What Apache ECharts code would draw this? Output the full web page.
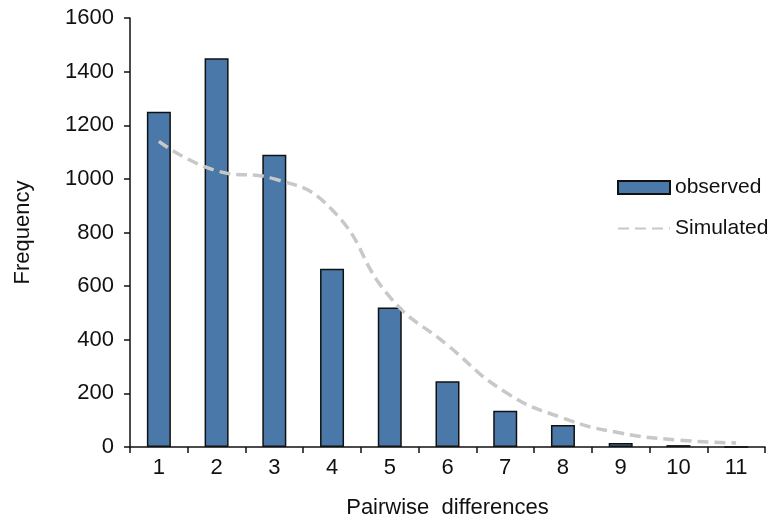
<!DOCTYPE html>
<html>
<head>
<meta charset="utf-8">
<script src="https://cdn.jsdelivr.net/npm/echarts@6/dist/echarts.min.js"></script>
<style>
  html, body { margin: 0; padding: 0; background: #fff; }
  #chart { width: 772px; height: 520px; }
</style>
</head>
<body>
<div id="chart"></div>
<script>
// 数据
const categories = ['1', '2', '3', '4', '5', '6', '7', '8', '9', '10', '11']
const observed = [1250, 1450, 1090, 665, 520, 245, 135, 82, 15, 7, 0]
const simulated = [1140, 1030, 1000, 885, 560, 380, 205, 108, 52, 26, 15]
const yTicks = [0, 200, 400, 600, 800, 1000, 1200, 1400, 1600]

const font = 'Liberation Sans, Arial, sans-serif'
const chart = echarts.init(document.getElementById('chart'))

const option = {
  animation: false,
  textStyle: { fontFamily: font },
  grid: { left: 130, right: 7, top: 18, bottom: 73, containLabel: false, outerBoundsMode: 'none' },
  legend: {
    orient: 'vertical',
    left: 612,
    top: 172,
    itemWidth: 52,
    itemHeight: 13,
    itemGap: 20,
    textStyle: { fontSize: 21, color: '#111', fontFamily: font },
    data: [
      { name: 'observed', icon: 'rect' },
      { name: 'Simulated', itemStyle: { opacity: 0 } }
    ]
  },
  xAxis: {
    type: 'category',
    data: categories,
    name: 'Pairwise  differences',
    nameLocation: 'middle',
    nameGap: 50,
    nameTextStyle: { fontSize: 22, color: '#111' },
    axisLine: { lineStyle: { color: '#111', width: 1.5 } },
    axisTick: { show: true, length: 6, lineStyle: { color: '#111', width: 1.5 } },
    axisLabel: { fontSize: 22, color: '#111', margin: 10 },
    splitLine: { show: false }
  },
  yAxis: {
    type: 'value',
    min: yTicks[0],
    max: yTicks[yTicks.length - 1],
    interval: 200,
    name: 'Frequency',
    nameLocation: 'middle',
    nameGap: 96,
    nameTextStyle: { fontSize: 22, color: '#111' },
    axisLine: { show: true, lineStyle: { color: '#111', width: 1.5 } },
    axisTick: { show: true, length: 6, lineStyle: { color: '#111', width: 1.5 } },
    axisLabel: { fontSize: 22, color: '#111', margin: 16, formatter: v => String(v) },
    splitLine: { show: false }
  },
  series: [
    {
      name: 'observed',
      type: 'bar',
      data: observed,
      barWidth: 24,
      itemStyle: { color: '#4a78a8', borderColor: '#111', borderWidth: 1.5 },
      z: 2
    },
    {
      name: 'Simulated',
      type: 'line',
      data: simulated,
      smooth: true,
      symbol: 'none',
      lineStyle: { color: '#c8c8c8', width: 3.5, type: [11, 6] },
      itemStyle: { color: '#c8c8c8' },
      z: 3
    }
  ]
}

chart.setOption(option)
</script>
</body>
</html>
